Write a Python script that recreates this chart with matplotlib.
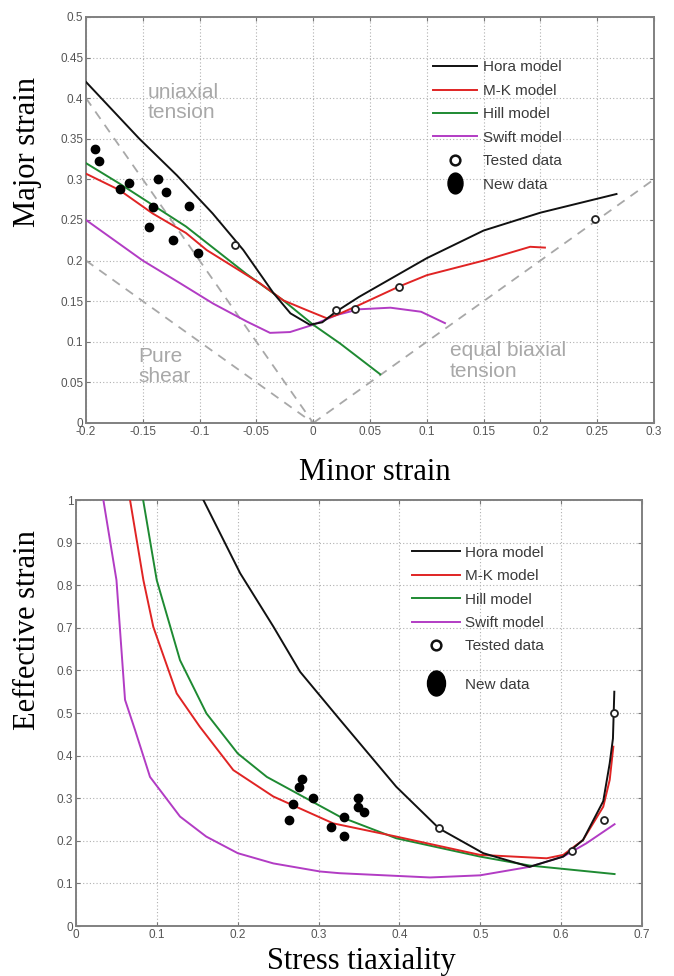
import numpy as np
import matplotlib
matplotlib.use("Agg")
import matplotlib.pyplot as plt
from matplotlib.lines import Line2D
from matplotlib.markers import MarkerStyle
from matplotlib.transforms import Affine2D

# ---- top panel: forming limit (minor vs major strain) ----
hora_fld_x = [-0.2, -0.153, -0.12, -0.0885, -0.0615, -0.035, -0.02, -0.003, 0.008, 0.02, 0.04, 0.07, 0.1, 0.15, 0.2, 0.267]
hora_fld_y = [0.42, 0.35, 0.305, 0.258, 0.213, 0.16, 0.135, 0.121, 0.124, 0.137, 0.155, 0.179, 0.203, 0.237, 0.259, 0.282]
mk_fld_x = [-0.2, -0.1707, -0.1413, -0.112, -0.0938, -0.0468, -0.0263, -0.0057, 0.0119, 0.0207, 0.04, 0.0755, 0.1, 0.15, 0.191, 0.204]
mk_fld_y = [0.307, 0.287, 0.258, 0.234, 0.213, 0.172, 0.151, 0.139, 0.129, 0.133, 0.145, 0.168, 0.182, 0.2, 0.217, 0.216]
hill_fld_x = [-0.2, -0.1707, -0.112, -0.0592, -0.0263, 0.0, 0.0236, 0.059]
hill_fld_y = [0.32, 0.295, 0.242, 0.184, 0.151, 0.121, 0.098, 0.06]
swift_fld_x = [-0.2, -0.15, -0.117, -0.088, -0.0585, -0.038, -0.0204, 0.0, 0.0207, 0.04, 0.068, 0.095, 0.116]
swift_fld_y = [0.25, 0.2, 0.172, 0.147, 0.125, 0.111, 0.112, 0.121, 0.133, 0.14, 0.142, 0.137, 0.123]
tested_fld_x = [-0.069, 0.02, 0.037, 0.0755, 0.248]
tested_fld_y = [0.219, 0.139, 0.14, 0.168, 0.251]
new_fld_x = [-0.1918, -0.1883, -0.1698, -0.1624, -0.1363, -0.1296, -0.1413, -0.1093, -0.1443, -0.1231, -0.1017]
new_fld_y = [0.337, 0.323, 0.288, 0.296, 0.301, 0.285, 0.266, 0.267, 0.241, 0.225, 0.209]
# strain paths (ratio major/minor)
path_uniaxial = [-0.2, 0.0]
path_shear = [-0.2, 0.0]
path_biaxial = [0.0, 0.3]

top_xticks = [-0.2, -0.15, -0.1, -0.05, 0, 0.05, 0.1, 0.15, 0.2, 0.25, 0.3]
top_xlabels = ['-0.2', '-0.15', '-0.1', '-0.05', '0', '0.05', '0.1', '0.15', '0.2', '0.25', '0.3']
top_yticks = [0, 0.05, 0.1, 0.15, 0.2, 0.25, 0.3, 0.35, 0.4, 0.45, 0.5]
top_ylabels = ['0', '0.05', '0.1', '0.15', '0.2', '0.25', '0.3', '0.35', '0.4', '0.45', '0.5']

# ---- bottom panel: effective strain vs stress triaxiality ----
hora_tri_x = [0.1575, 0.203, 0.244, 0.277, 0.3265, 0.396, 0.449, 0.5036, 0.561, 0.6025, 0.627, 0.652, 0.66, 0.664, 0.6657]
hora_tri_y = [1.0, 0.828, 0.703, 0.597, 0.484, 0.327, 0.229, 0.171, 0.139, 0.163, 0.202, 0.293, 0.382, 0.44, 0.55]
mk_tri_x = [0.0668, 0.0833, 0.0956, 0.1245, 0.153, 0.1945, 0.244, 0.318, 0.396, 0.4996, 0.541, 0.582, 0.6025, 0.627, 0.652, 0.66, 0.6645]
mk_tri_y = [1.0, 0.812, 0.702, 0.546, 0.468, 0.366, 0.304, 0.241, 0.21, 0.167, 0.163, 0.159, 0.167, 0.202, 0.28, 0.343, 0.421]
hill_tri_x = [0.083, 0.0998, 0.1286, 0.1613, 0.2, 0.236, 0.326, 0.396, 0.4996, 0.561, 0.666]
hill_tri_y = [1.0, 0.812, 0.624, 0.499, 0.405, 0.35, 0.257, 0.206, 0.163, 0.142, 0.122]
swift_tri_x = [0.0338, 0.05, 0.0606, 0.073, 0.0915, 0.1286, 0.161, 0.2, 0.244, 0.3018, 0.326, 0.4378, 0.4996, 0.561, 0.6025, 0.631, 0.666]
swift_tri_y = [1.0, 0.812, 0.531, 0.46, 0.35, 0.257, 0.21, 0.171, 0.147, 0.128, 0.124, 0.114, 0.119, 0.139, 0.163, 0.194, 0.239]
tested_tri_x = [0.449, 0.613, 0.653, 0.665]
tested_tri_y = [0.229, 0.176, 0.25, 0.5]
new_tri_x = [0.263, 0.2685, 0.2756, 0.279, 0.2927, 0.3154, 0.331, 0.331, 0.349, 0.349, 0.3556]
new_tri_y = [0.25, 0.286, 0.327, 0.344, 0.30, 0.233, 0.212, 0.255, 0.30, 0.28, 0.268]

bot_xticks = [0, 0.1, 0.2, 0.3, 0.4, 0.5, 0.6, 0.7]
bot_xlabels = ['0', '0.1', '0.2', '0.3', '0.4', '0.5', '0.6', '0.7']
bot_yticks = [0, 0.1, 0.2, 0.3, 0.4, 0.5, 0.6, 0.7, 0.8, 0.9, 1.0]
bot_ylabels = ['0', '0.1', '0.2', '0.3', '0.4', '0.5', '0.6', '0.7', '0.8', '0.9', '1']

labels = ['Hora model', 'M-K model', 'Hill model', 'Swift model', 'Tested data', 'New data']

c_hora = '#111111'
c_mk = '#e02424'
c_hill = '#1e8a32'
c_swift = '#b23cc4'
c_grey = '#a8a8a8'
lw = 1.4

plt.rcParams['font.family'] = ['Liberation Sans', 'DejaVu Sans']
serif = ['Liberation Serif', 'DejaVu Serif']

fig = plt.figure(figsize=(6.74, 9.76), dpi=100)
ax1 = fig.add_axes([0.1276, 0.5666, 0.8427, 0.416])
ax2 = fig.add_axes([0.1128, 0.0512, 0.8398, 0.4365])


def style_axes(ax, xt, xl, yt, yl):
    ax.set_xticks(xt, xl)
    ax.set_yticks(yt, yl)
    ax.set_xlim(xt[0], xt[-1])
    ax.set_ylim(yt[0], yt[-1])
    ax.grid(True, color='#b0b0b0', linestyle=(0, (1, 2)), linewidth=0.8)
    ax.tick_params(direction='in', length=3, width=0.8, color='#777777',
                   labelsize=8.5, labelcolor='#555555', pad=2,
                   top=True, right=True)
    for s in ax.spines.values():
        s.set_color('#808080')
        s.set_linewidth(1.4)


def legend_handles(big):
    ell = MarkerStyle('o', transform=Affine2D().scale(0.72, 1.0))
    return [
        Line2D([], [], color=c_hora, lw=lw),
        Line2D([], [], color=c_mk, lw=lw),
        Line2D([], [], color=c_hill, lw=lw),
        Line2D([], [], color=c_swift, lw=lw),
        Line2D([], [], ls='none', marker='o', ms=7, mfc='white', mec='#111111', mew=1.8),
        Line2D([], [], ls='none', marker=ell, ms=big, mfc='black', mec='black'),
    ]


leg_kw = dict(loc='upper left', frameon=False, fontsize=11, handletextpad=0.35,
              labelspacing=0.62, borderpad=0, borderaxespad=0, labelcolor='#3a3a3a')

# ---- top ----
ax = ax1
style_axes(ax, top_xticks, top_xlabels, top_yticks, top_ylabels)
ux = np.array(path_uniaxial)
ax.plot(ux, -2 * ux, color=c_grey, lw=1.3, dashes=(5, 4), zorder=2)
sx = np.array(path_shear)
ax.plot(sx, -sx, color=c_grey, lw=1.3, dashes=(5, 4), zorder=2)
bx = np.array(path_biaxial)
ax.plot(bx, bx, color=c_grey, lw=1.3, dashes=(5, 4), zorder=2)

ax.plot(swift_fld_x, swift_fld_y, color=c_swift, lw=lw, zorder=3)
ax.plot(hill_fld_x, hill_fld_y, color=c_hill, lw=lw, zorder=3)
ax.plot(mk_fld_x, mk_fld_y, color=c_mk, lw=lw, zorder=3)
ax.plot(hora_fld_x, hora_fld_y, color=c_hora, lw=lw, zorder=4)
ax.plot(tested_fld_x, tested_fld_y, ls='none', marker='o', ms=5, mfc='white',
        mec='#222222', mew=1.3, zorder=5)
ax.plot(new_fld_x, new_fld_y, ls='none', marker='o', ms=6, color='black', zorder=5)

ax.text(-0.1455, 0.419, 'uniaxial\ntension', color=c_grey, fontsize=15,
        va='top', ha='left', linespacing=1.1)
ax.text(-0.154, 0.094, 'Pure\nshear', color=c_grey, fontsize=15,
        va='top', ha='left', linespacing=1.1)
ax.text(0.1204, 0.1005, 'equal biaxial\ntension', color=c_grey, fontsize=15,
        va='top', ha='left', linespacing=1.1)

ax.legend(legend_handles(15), labels, bbox_to_anchor=(0.611, 0.893),
          handlelength=2.9, **leg_kw)

ax.set_xlabel('Minor strain', fontsize=22, family=serif)
ax.set_ylabel('Major strain', fontsize=22, family=serif)
ax.xaxis.set_label_coords(0.509, -0.085)
ax.yaxis.set_label_coords(-0.078, 0.667)

# ---- bottom ----
ax = ax2
style_axes(ax, bot_xticks, bot_xlabels, bot_yticks, bot_ylabels)
ax.plot(swift_tri_x, swift_tri_y, color=c_swift, lw=lw, zorder=3)
ax.plot(hill_tri_x, hill_tri_y, color=c_hill, lw=lw, zorder=3)
ax.plot(mk_tri_x, mk_tri_y, color=c_mk, lw=lw, zorder=3)
ax.plot(hora_tri_x, hora_tri_y, color=c_hora, lw=lw, zorder=4)
ax.plot(tested_tri_x, tested_tri_y, ls='none', marker='o', ms=5, mfc='white',
        mec='#222222', mew=1.3, zorder=5)
ax.plot(new_tri_x, new_tri_y, ls='none', marker='o', ms=6, color='black', zorder=5)

hb = legend_handles(18)
leg_a = ax.legend(hb[:5], labels[:5], bbox_to_anchor=(0.594, 0.893),
                  handlelength=3.1, **leg_kw)
ax.add_artist(leg_a)
ax.legend(hb[5:], labels[5:], bbox_to_anchor=(0.594, 0.583),
          handlelength=3.1, **leg_kw)

ax.set_xlabel('Stress tiaxiality', fontsize=22, family=serif)
ax.set_ylabel('Eeffective strain', fontsize=22, family=serif)
ax.xaxis.set_label_coords(0.505, -0.049)
ax.yaxis.set_label_coords(-0.06, 0.695)

fig.savefig('out.png', dpi=100)
